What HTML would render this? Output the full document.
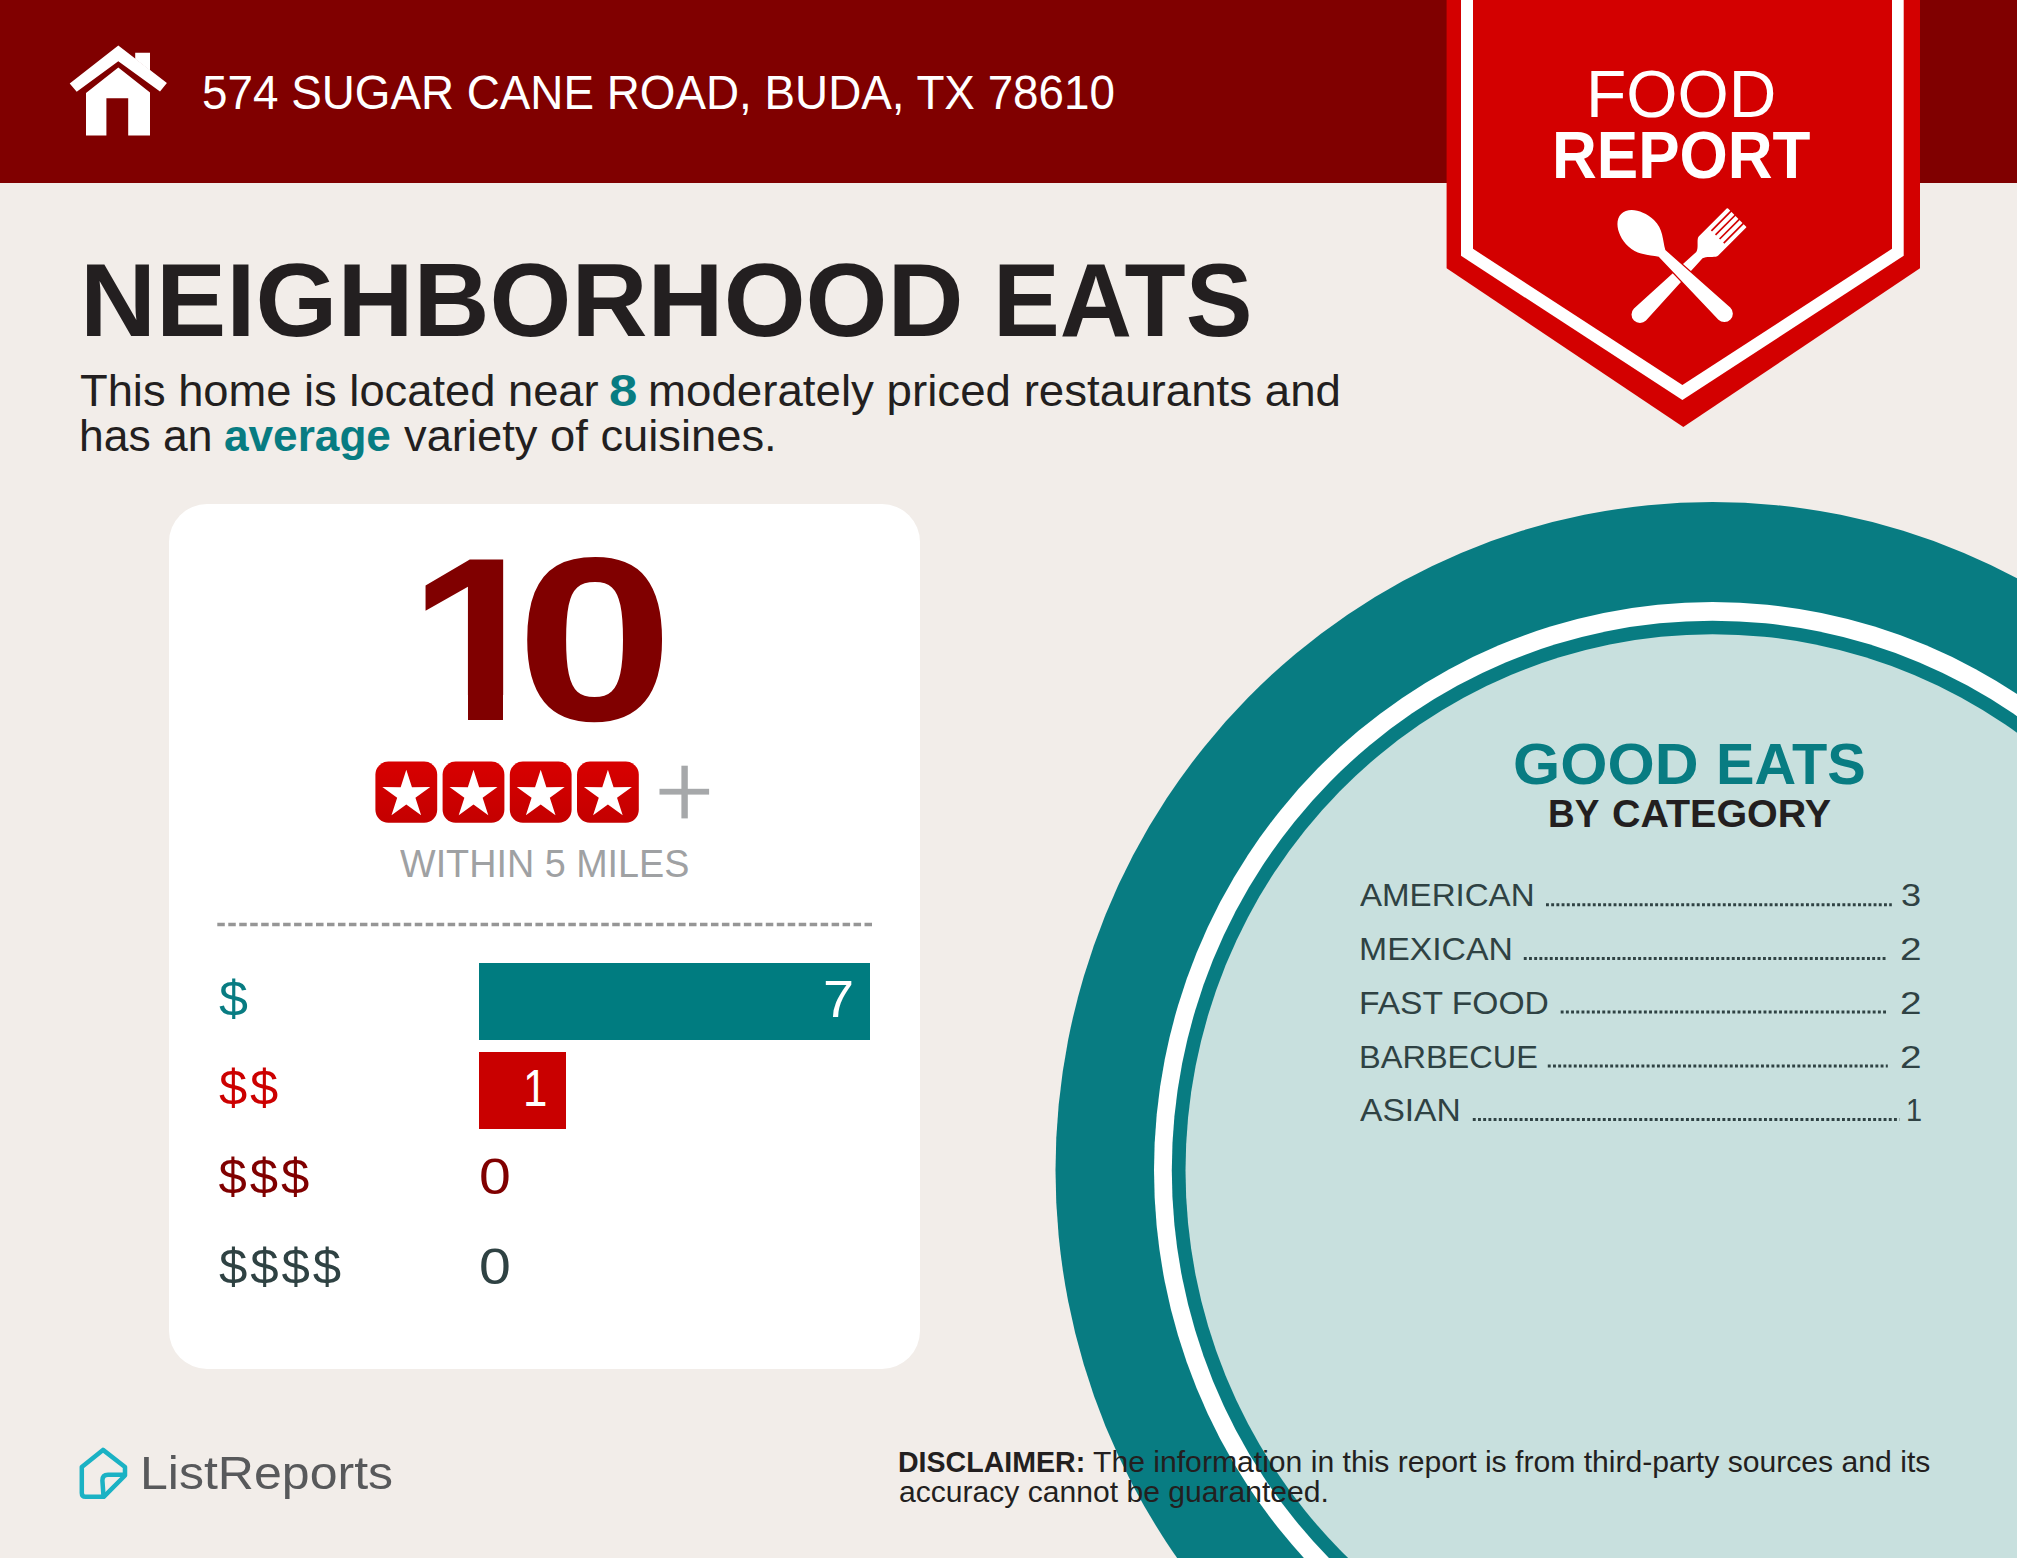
<!DOCTYPE html>
<html lang="en"><head><meta charset="utf-8"><title>Food Report - Neighborhood Eats</title>
<style>
html,body{margin:0;padding:0}
body{width:2017px;height:1558px;position:relative;overflow:hidden;background:#f2ede9;font-family:"Liberation Sans",sans-serif}
.hdr{position:absolute;left:0;top:0;width:2017px;height:183px;background:#800000}
svg.l{position:absolute;left:0;top:0}
.card{position:absolute;left:169px;top:503.5px;width:750.5px;height:865.5px;border-radius:38px;background:#fff}
.t{position:absolute;white-space:nowrap;line-height:1;transform-origin:0 0}
.cv{position:absolute;background:#fff}
.bar{position:absolute;left:479px}
</style></head><body>
<div class="hdr"></div>
<svg class="l" width="2017" height="1558" viewBox="0 0 2017 1558"><ellipse cx="1712.5" cy="1170.5" rx="657" ry="668.5" fill="#087c82"/><ellipse cx="1712.5" cy="1170.5" rx="558.5" ry="568.4" fill="#fff"/><ellipse cx="1712.5" cy="1170.5" rx="540.7" ry="549.8" fill="#087c82"/><ellipse cx="1712.5" cy="1170.5" rx="527" ry="536.3" fill="#c8e0de"/></svg>
<div class="card"></div>
<div class="bar" style="top:963.2px;width:391px;height:76.4px;background:#007c80"></div>
<div class="bar" style="top:1052.2px;width:87px;height:76.5px;background:#c90000"></div>
<svg class="l" width="2017" height="1558" viewBox="0 0 2017 1558">
<defs><linearGradient id="sg" x1="0" y1="0" x2="0" y2="1"><stop offset="0" stop-color="#d80000"/><stop offset="1" stop-color="#c40000"/></linearGradient></defs>
<polygon points="1446.6,0 1446.6,268.3 1683.3,427 1920,268.3 1920,0" fill="#d30000"/>
<polygon points="1461,0 1461,255.8 1682.4,400 1903.7,255.8 1903.7,0" fill="#fff"/>
<polygon points="1473,0 1473,248.8 1682.4,385.1 1892,248.8 1892,0" fill="#d30000"/>
<g transform="translate(1640,314.5) rotate(45)"><path d="M-13.65,-136.2 Q-13.65,-137.2 -12.65,-137.2 L12.65,-137.2 Q13.65,-137.2 13.65,-136.2 L13.65,-97 C13.65,-93 5.5,-89 4.45,-84 L8.5,0 A8.5,8.5 0 0 1 -8.5,0 L-4.45,-84 C-5.5,-89 -13.65,-93 -13.65,-97Z" fill="#fff"/><rect x="-9.55" y="-138.5" width="1.7" height="28.8" fill="#d30000"/><rect x="-3.75" y="-138.5" width="1.7" height="28.8" fill="#d30000"/><rect x="2.05" y="-138.5" width="1.7" height="28.8" fill="#d30000"/><rect x="7.85" y="-138.5" width="1.7" height="28.8" fill="#d30000"/></g>
<g transform="translate(1641.9,234) rotate(-46)"><path d="M0,-28.9 C10.2,-28.9 18.4,-16 18.4,-1 C18.4,12 10,19 4.75,28 L8.5,114.6 A8.5,8.5 0 0 1 -8.5,114.6 L-4.75,28 C-10,19 -18.4,12 -18.4,-1 C-18.4,-16 -10.2,-28.9 0,-28.9Z" fill="#fff" stroke="#d30000" stroke-width="2.5" paint-order="stroke"/></g>
<polygon points="118.3,45.4 69.7,83.5 76.7,91.8 118.3,61.2 160,91.4 166.9,83.1" fill="#fff"/>
<polygon points="135.2,52.7 150,52.7 150,70.5 135.2,58.9" fill="#fff"/>
<path d="M118.3,67.6 L86,92.9 V135.4 H106.4 V98.3 H128.2 V135.4 H150 V92.5 Z" fill="#fff"/>
<rect x="375.4" y="761.6" width="61.8" height="61.2" rx="13" ry="13" fill="url(#sg)"/><polygon points="406.30,769.70 411.94,787.13 430.27,787.11 415.43,797.87 421.11,815.29 406.30,804.50 391.49,815.29 397.17,797.87 382.33,787.11 400.66,787.13" fill="#fff"/><rect x="442.6" y="761.6" width="61.8" height="61.2" rx="13" ry="13" fill="url(#sg)"/><polygon points="473.50,769.70 479.14,787.13 497.47,787.11 482.63,797.87 488.31,815.29 473.50,804.50 458.69,815.29 464.37,797.87 449.53,787.11 467.86,787.13" fill="#fff"/><rect x="509.8" y="761.6" width="61.8" height="61.2" rx="13" ry="13" fill="url(#sg)"/><polygon points="540.70,769.70 546.34,787.13 564.67,787.11 549.83,797.87 555.51,815.29 540.70,804.50 525.89,815.29 531.57,797.87 516.73,787.11 535.06,787.13" fill="#fff"/><rect x="577.0" y="761.6" width="61.8" height="61.2" rx="13" ry="13" fill="url(#sg)"/><polygon points="607.90,769.70 613.54,787.13 631.87,787.11 617.03,797.87 622.71,815.29 607.90,804.50 593.09,815.29 598.77,797.87 583.93,787.11 602.26,787.13" fill="#fff"/>
<rect x="659.5" y="788.8" width="49.6" height="5.8" fill="#a6a8aa"/><rect x="681.4" y="765.7" width="6.4" height="52.7" fill="#a6a8aa"/>
<path d="M103,1449.9 L81.8,1467 L81.8,1493 Q81.8,1496.8 85.6,1496.8 L103.7,1496.8 L125,1475.5 L125,1467 Z" fill="none" stroke="#1bb2c4" stroke-width="4.5" stroke-linejoin="round"/>
<path d="M124,1474.8 L108,1474.8 Q102.4,1474.8 102.4,1480.5 L103.5,1496" fill="none" stroke="#1bb2c4" stroke-width="4.5" stroke-linejoin="round" stroke-linecap="round"/>
<line x1="1546" y1="904.7" x2="1891.8" y2="904.7" stroke="#2f4243" stroke-width="3" stroke-dasharray="2.9 2.3"/><line x1="1523.8" y1="958.4" x2="1887.8" y2="958.4" stroke="#2f4243" stroke-width="3" stroke-dasharray="2.9 2.3"/><line x1="1560.7" y1="1012.1" x2="1887.8" y2="1012.1" stroke="#2f4243" stroke-width="3" stroke-dasharray="2.9 2.3"/><line x1="1547.8" y1="1065.9" x2="1887.8" y2="1065.9" stroke="#2f4243" stroke-width="3" stroke-dasharray="2.9 2.3"/><line x1="1472.8" y1="1119.6" x2="1899.5" y2="1119.6" stroke="#2f4243" stroke-width="3" stroke-dasharray="2.9 2.3"/>
<line x1="217.3" y1="924.45" x2="872" y2="924.45" stroke="#969696" stroke-width="3.5" stroke-dasharray="7.5 3.47"/>
</svg>
<div class="t" style="left:202.01px;top:68.03px;font-size:48.4px;font-weight:400;color:#fff;transform:scaleX(0.9465);">574 SUGAR CANE ROAD, BUDA, TX 78610</div>
<div class="t" style="left:79.52px;top:247.80px;font-size:104.07px;font-weight:700;color:#231f20;transform:scaleX(1.0121);">NEIGHBORHOOD</div>
<div class="t" style="left:992.87px;top:247.80px;font-size:104.07px;font-weight:700;color:#231f20;transform:scaleX(0.9618);">EATS</div>
<div class="t" style="left:79.66px;top:369.68px;font-size:43.61px;font-weight:400;color:#231f20;transform:scaleX(1.0386);">This home is located near</div>
<div class="t" style="left:609.13px;top:369.68px;font-size:43.61px;font-weight:700;color:#087c82;transform:scaleX(1.1682);">8</div>
<div class="t" style="left:647.86px;top:369.68px;font-size:43.61px;font-weight:400;color:#231f20;transform:scaleX(1.0471);">moderately priced restaurants and</div>
<div class="t" style="left:79.44px;top:415.08px;font-size:43.61px;font-weight:400;color:#231f20;transform:scaleX(1.0192);">has an</div>
<div class="t" style="left:224.19px;top:415.08px;font-size:43.61px;font-weight:700;color:#087c82;transform:scaleX(1.0123);">average</div>
<div class="t" style="left:404.20px;top:415.08px;font-size:43.61px;font-weight:400;color:#231f20;transform:scaleX(1.0389);">variety of cuisines.</div>
<div class="t" style="left:407.60px;top:523.00px;font-size:233.43px;font-weight:700;color:#800000;transform:scaleX(1.1000);">1</div>
<div class="cv" style="left:418px;top:694.6px;width:50px;height:29px"></div><div class="cv" style="left:503px;top:694.6px;width:44px;height:29px"></div>
<div class="t" style="left:515.87px;top:523.00px;font-size:233.43px;font-weight:700;color:#800000;transform:scaleX(1.2144);">0</div>
<div class="t" style="left:400.30px;top:844.64px;font-size:38.23px;font-weight:400;color:#9fa1a3;transform:scaleX(0.9876);">WITHIN 5 MILES</div>
<div class="t" style="left:218.58px;top:974.24px;font-size:50.87px;font-weight:400;color:#087c82;transform:scaleX(1.0231);letter-spacing:2.9px;">$</div>
<div class="t" style="left:218.60px;top:1063.34px;font-size:50.87px;font-weight:400;color:#cc0000;transform:scaleX(0.9966);letter-spacing:2.9px;">$$</div>
<div class="t" style="left:218.60px;top:1152.44px;font-size:50.87px;font-weight:400;color:#800000;transform:scaleX(1.0000);letter-spacing:2.9px;">$$$</div>
<div class="t" style="left:218.60px;top:1241.54px;font-size:50.87px;font-weight:400;color:#2f4243;transform:scaleX(1.0017);letter-spacing:2.9px;">$$$$</div>
<div class="t" style="left:822.65px;top:973.62px;font-size:51.6px;font-weight:400;color:#fff;transform:scaleX(1.0826);">7</div>
<div class="t" style="left:523.30px;top:1062.72px;font-size:51.6px;font-weight:400;color:#fff;transform:scaleX(0.8500);">1</div>
<div class="t" style="left:479.15px;top:1152.44px;font-size:50.87px;font-weight:400;color:#800000;transform:scaleX(1.1250);">0</div>
<div class="t" style="left:479.15px;top:1241.54px;font-size:50.87px;font-weight:400;color:#2f4243;transform:scaleX(1.1250);">0</div>
<div class="t" style="left:1512.61px;top:734.90px;font-size:58.0px;font-weight:700;color:#087c82;transform:scaleX(1.0468);">GOOD</div>
<div class="t" style="left:1716.32px;top:734.90px;font-size:58.0px;font-weight:700;color:#087c82;transform:scaleX(0.9951);">EATS</div>
<div class="t" style="left:1547.55px;top:796.08px;font-size:37.94px;font-weight:700;color:#231f20;transform:scaleX(0.9740);">BY</div>
<div class="t" style="left:1611.72px;top:796.08px;font-size:37.94px;font-weight:700;color:#231f20;transform:scaleX(1.0399);">CATEGORY</div>
<div class="t" style="left:1360.00px;top:879.31px;font-size:32.12px;font-weight:400;color:#2f4243;transform:scaleX(1.0299);">AMERICAN</div>
<div class="t" style="left:1901.37px;top:879.31px;font-size:32.12px;font-weight:400;color:#2f4243;transform:scaleX(1.1267);">3</div>
<div class="t" style="left:1358.54px;top:933.01px;font-size:32.12px;font-weight:400;color:#2f4243;transform:scaleX(1.0518);">MEXICAN</div>
<div class="t" style="left:1900.09px;top:933.01px;font-size:32.12px;font-weight:400;color:#2f4243;transform:scaleX(1.2071);">2</div>
<div class="t" style="left:1358.56px;top:986.71px;font-size:32.12px;font-weight:400;color:#2f4243;transform:scaleX(1.0469);">FAST FOOD</div>
<div class="t" style="left:1900.09px;top:986.71px;font-size:32.12px;font-weight:400;color:#2f4243;transform:scaleX(1.2071);">2</div>
<div class="t" style="left:1358.66px;top:1040.51px;font-size:32.12px;font-weight:400;color:#2f4243;transform:scaleX(1.0134);">BARBECUE</div>
<div class="t" style="left:1900.09px;top:1040.51px;font-size:32.12px;font-weight:400;color:#2f4243;transform:scaleX(1.2071);">2</div>
<div class="t" style="left:1360.00px;top:1094.21px;font-size:32.12px;font-weight:400;color:#2f4243;transform:scaleX(1.0457);">ASIAN</div>
<div class="t" style="left:1906.00px;top:1094.21px;font-size:32.12px;font-weight:400;color:#2f4243;transform:scaleX(0.9000);">1</div>
<div class="t" style="left:1586.04px;top:61.07px;font-size:66.43px;font-weight:400;color:#fff;transform:scaleX(0.9924);">FOOD</div>
<div class="t" style="left:1552.25px;top:121.72px;font-size:66.13px;font-weight:700;color:#fff;transform:scaleX(0.9384);">REPORT</div>
<div class="t" style="left:139.96px;top:1449.99px;font-size:46.08px;font-weight:400;color:#58595b;transform:scaleX(1.0859);">ListReports</div>
<div class="t" style="left:898.44px;top:1447.59px;font-size:29.07px;font-weight:700;color:#231f20;transform:scaleX(0.9823);">DISCLAIMER:</div>
<div class="t" style="left:1092.76px;top:1447.59px;font-size:29.07px;font-weight:400;color:#231f20;transform:scaleX(1.0368);">The information in this report is from third-party sources and its</div>
<div class="t" style="left:899.36px;top:1478.09px;font-size:29.07px;font-weight:400;color:#231f20;transform:scaleX(1.0354);">accuracy cannot be guaranteed.</div>
</body></html>
